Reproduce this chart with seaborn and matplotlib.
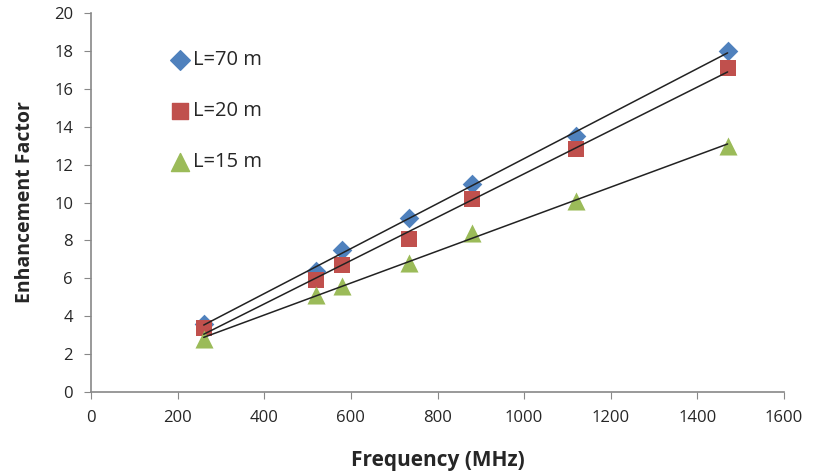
import matplotlib
matplotlib.use("Agg")
import matplotlib.pyplot as plt
import seaborn as sns
import pandas as pd

freq = [260, 520, 580, 735, 880, 1120, 1470]
ef_70 = [3.6, 6.4, 7.5, 9.2, 11.0, 13.5, 18.0]
ef_20 = [3.4, 5.9, 6.7, 8.1, 10.2, 12.8, 17.1]
ef_15 = [2.8, 5.1, 5.6, 6.8, 8.4, 10.1, 13.0]

series = [("L=70 m", ef_70, "D", "#4F81BD", 10),
          ("L=20 m", ef_20, "s", "#C0504D", 12),
          ("L=15 m", ef_15, "^", "#9BBB59", 13)]

sns.set_style("white")
plt.rcParams["font.family"] = ["Open Sans", "DejaVu Sans"]

fig = plt.figure(figsize=(8.14, 4.76), dpi=100)
ax = fig.add_axes([0.112, 0.176, 0.851, 0.797])

for name, vals, mk, col, ms in series:
    df = pd.DataFrame({"f": freq, "e": vals})
    sns.regplot(x="f", y="e", data=df, ax=ax, ci=None, marker=mk,
                scatter_kws={"s": ms ** 2, "color": col, "alpha": 1,
                             "linewidths": 0, "zorder": 2},
                line_kws={"color": "#222222", "lw": 1.1, "zorder": 3})
    ax.scatter([], [], marker=mk, s=ms ** 2, color=col, label=name)

ax.set_xlim(0, 1600)
ax.set_ylim(0, 20)
ax.set_xticks(range(0, 1601, 200))
ax.set_yticks(range(0, 21, 2))
ax.set_xlabel("Frequency (MHz)", fontsize=15, fontweight="bold", labelpad=17)
ax.set_ylabel("Enhancement Factor", fontsize=14, fontweight="bold", labelpad=14)
ax.tick_params(axis="both", labelsize=12, length=5, direction="out", color="#888888",
               bottom=True, left=True, pad=8)
for s in ["top", "right"]:
    ax.spines[s].set_visible(False)
for s in ["left", "bottom"]:
    ax.spines[s].set_color("#888888")
    ax.spines[s].set_linewidth(1.2)

ax.legend(loc="upper left", bbox_to_anchor=(0.085, 0.95), frameon=False, fontsize=14.5,
          labelspacing=1.55, handletextpad=0.05, handlelength=1.2)

fig.savefig("out.png", dpi=100)
